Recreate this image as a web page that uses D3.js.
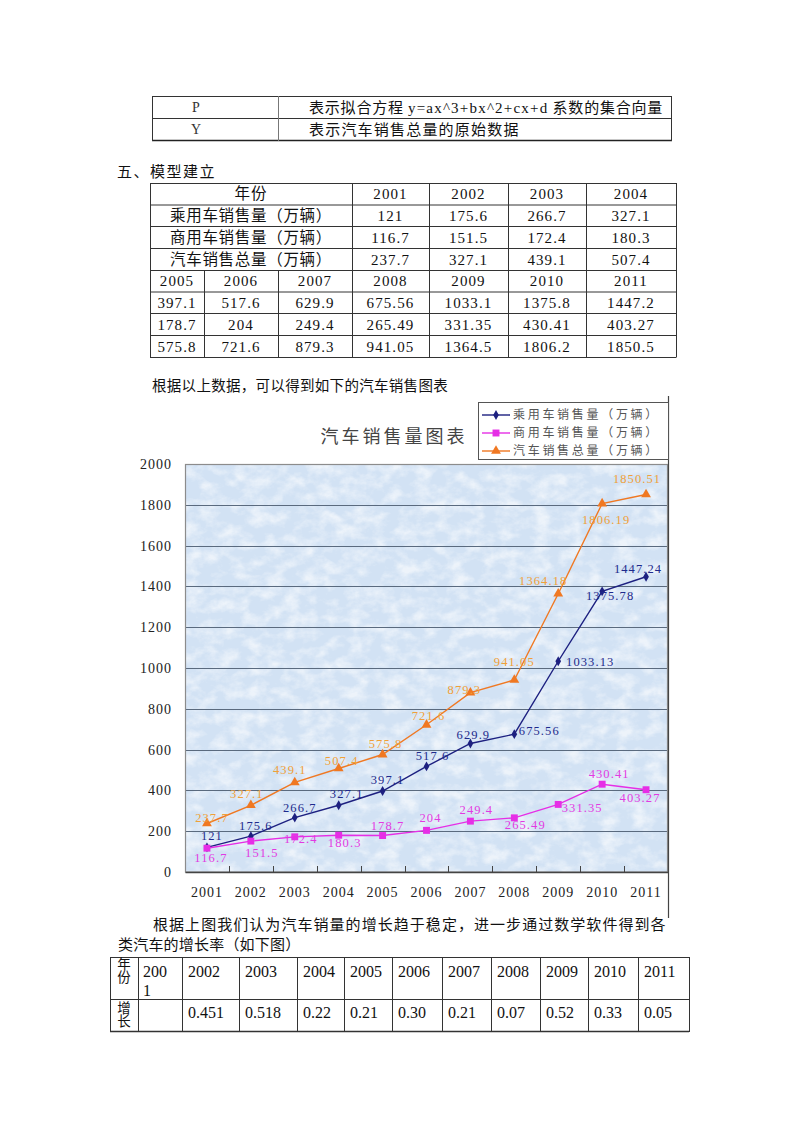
<!DOCTYPE html>
<html><head><meta charset="utf-8">
<script src="https://cdn.jsdelivr.net/npm/d3@7/dist/d3.min.js"></script>
<style>html,body{margin:0;padding:0;background:#fff}svg{display:block}</style>
</head><body>
<svg id="page" width="800" height="1132"></svg>
<script>
// ---------- data ----------
const years = [2001, 2002, 2003, 2004, 2005, 2006, 2007, 2008, 2009, 2010, 2011];
const passenger = [121, 175.6, 266.7, 327.1, 397.1, 517.6, 629.9, 675.56, 1033.13, 1375.78, 1447.24];
const commercial = [116.7, 151.5, 172.4, 180.3, 178.7, 204, 249.4, 265.49, 331.35, 430.41, 403.27];
const total = [237.7, 327.1, 439.1, 507.4, 575.8, 721.6, 879.3, 941.05, 1364.18, 1806.19, 1850.51];
const passengerTable = ["121", "175.6", "266.7", "327.1", "397.1", "517.6", "629.9", "675.56", "1033.1", "1375.8", "1447.2"];
const commercialTable = ["116.7", "151.5", "172.4", "180.3", "178.7", "204", "249.4", "265.49", "331.35", "430.41", "403.27"];
const totalTable = ["237.7", "327.1", "439.1", "507.4", "575.8", "721.6", "879.3", "941.05", "1364.5", "1806.2", "1850.5"];
const growth = ["", "0.451", "0.518", "0.22", "0.21", "0.30", "0.21", "0.07", "0.52", "0.33", "0.05"];
const yTicks = [0, 200, 400, 600, 800, 1000, 1200, 1400, 1600, 1800, 2000];
const seriesNames = ["乘用车销售量（万辆）", "商用车销售量（万辆）", "汽车销售总量（万辆）"];
const rowNames = ["乘用车销售量（万辆）", "商用车销售量（万辆）", "汽车销售总量（万辆）"];
const chartTitle = "汽车销售量图表";

// ---------- label placement (style, not data) ----------
const passengerLabelOff = [[5,-12],[5,-11],[5,-10],[8,-12],[5,-11],[6,-11],[3,-9],[25,-4],[32,0],[8,4],[-8,-8]];
const commercialLabelOff = [[4,9],[11,12],[6,2],[6,7],[5,-10],[4,-13],[6,-11],[11,7],[24,3],[7,-11],[-6,8]];
const totalLabelOff = [[5,-6],[-4,-12],[-5,-13],[3,-8],[3,-11],[2,-9],[-6,-3],[0,-18],[-15,-13],[4,16],[-9,-16]];

const CJK = "'Noto Sans CJK SC', 'Noto Sans', sans-serif";
const SERIF = "'Liberation Serif', 'DejaVu Serif', serif";
const svg = d3.select("#page");

function txt(x, y, s, opt) {
  opt = opt || {};
  return svg.append("text").attr("x", x).attr("y", y).attr("dy", "0.35em")
    .attr("font-family", opt.font || CJK).attr("font-size", opt.size || 14.5)
    .attr("fill", opt.fill || "#111").attr("text-anchor", opt.anchor || "start")
    .attr("letter-spacing", opt.ls || 0).text(s);
}
function vtxt(x, y, s, size) {
  return svg.append("text").attr("x", x).attr("y", y).attr("writing-mode", "vertical-rl")
    .attr("font-family", CJK).attr("font-size", size).attr("fill", "#111")
    .attr("letter-spacing", 0).text(s);
}
function hl(x1, x2, y, c, w) { svg.append("line").attr("x1", x1).attr("x2", x2).attr("y1", y).attr("y2", y).attr("stroke", c || "#333").attr("stroke-width", w || 1); }
function vl(x, y1, y2, c, w) { svg.append("line").attr("x1", x).attr("x2", x).attr("y1", y1).attr("y2", y2).attr("stroke", c || "#333").attr("stroke-width", w || 1); }

// ---------- table 1 ----------
hl(152, 672, 96.5); hl(152, 672, 118.5); hl(152, 672, 140.5, "#222", 1.3);
vl(152.5, 96, 141); vl(278.5, 96, 141, "#777"); vl(671.5, 96, 141);
txt(196, 107.5, "P", {font: SERIF, size: 14, anchor: "middle", fill: "#333"});
txt(196, 129.5, "Y", {font: SERIF, size: 14, anchor: "middle", fill: "#333"});
(function(){
  const t = svg.append("text").attr("x", 309).attr("y", 107.5).attr("dy", "0.35em")
    .attr("font-family", CJK).attr("font-size", 15).attr("letter-spacing", 0.8).attr("fill", "#111");
  t.append("tspan").text("表示拟合方程 ");
  t.append("tspan").attr("font-family", SERIF).attr("letter-spacing", 1.2).text("y=ax^3+bx^2+cx+d");
  t.append("tspan").text(" 系数的集合向量");
})();
txt(309, 129.5, "表示汽车销售总量的原始数据", {size: 15, ls: 1.2});

// ---------- heading ----------
txt(117, 172, "五、模型建立", {size: 15, ls: 1.5});

// ---------- table 2 ----------
const t2Rows = [183, 204.5, 226, 248, 270, 291.5, 313, 335, 357];
const t2Top = [150, 352, 429, 508, 586, 676];
const t2Bot = [150, 204, 278, 352, 429, 508, 586, 676];
t2Rows.forEach(r => hl(150, 676, r + 0.5, "#333"));
t2Top.forEach(c => vl(c + 0.5, 183, 270.5));
t2Bot.forEach(c => vl(c + 0.5, 270, 357.5));
const numOpt = {font: SERIF, size: 15, anchor: "middle", ls: 1.1};
txt(251, 194, "年份", {anchor: "middle", size: 15.5, ls: 1});
rowNames.forEach((n, i) => txt(251, 216 + i * 21.8, n, {anchor: "middle", size: 15.5, ls: 0.7}));
const topCenters = t2Top.slice(0, -1).map((c, i) => (t2Top[i] + t2Top[i + 1]) / 2).slice(1);
const botCenters = t2Bot.slice(0, -1).map((c, i) => (t2Bot[i] + t2Bot[i + 1]) / 2);
years.slice(0, 4).forEach((yv, i) => txt(topCenters[i], 194, String(yv), numOpt));
[passengerTable, commercialTable, totalTable].forEach((arr, r) => {
  arr.slice(0, 4).forEach((v, i) => txt(topCenters[i], 216 + r * 21.8, v, numOpt));
  arr.slice(4).forEach((v, i) => txt(botCenters[i], 302.5 + r * 22, v, numOpt));
});
years.slice(4).forEach((yv, i) => txt(botCenters[i], 281, String(yv), numOpt));

// ---------- paragraph ----------
txt(152, 386, "根据以上数据，可以得到如下的汽车销售图表", {size: 14.5, ls: 0.3});

// ---------- chart ----------
const defs = svg.append("defs");
const f = defs.append("filter").attr("id", "marble").attr("x", 0).attr("y", 0).attr("width", 1).attr("height", 1);
f.append("feTurbulence").attr("type", "fractalNoise").attr("baseFrequency", "0.06 0.08").attr("numOctaves", 4).attr("seed", 11).attr("result", "n");
f.append("feColorMatrix").attr("in", "n").attr("type", "matrix")
  .attr("values", "0 0 0 0 1  0 0 0 0 1  0 0 0 0 1  2.4 0 0 0 -0.95");

const x = d3.scaleBand().domain(years).range([185, 668]);
const y = d3.scaleLinear().domain([0, 2000]).range([872, 464]);
const cx = d => x(d) + x.bandwidth() / 2;

svg.append("rect").attr("x", 185).attr("y", 464).attr("width", 483).attr("height", 408).attr("fill", "#d2e2f4");
svg.append("rect").attr("x", 185).attr("y", 464).attr("width", 483).attr("height", 408).attr("fill", "#fff").attr("filter", "url(#marble)").attr("opacity", 0.6);

// gridlines
svg.append("g").selectAll("line").data(yTicks.filter(v => v > 0 && v < 2000)).join("line")
  .attr("x1", 185).attr("x2", 668).attr("y1", d => Math.round(y(d)) + 0.5).attr("y2", d => Math.round(y(d)) + 0.5)
  .attr("stroke", "#5a6a7e").attr("stroke-width", 1);
svg.append("rect").attr("x", 185.5).attr("y", 464.5).attr("width", 482).attr("height", 407.5)
  .attr("fill", "none").attr("stroke", "#8c8c8c").attr("stroke-width", 1.2);

// y axis labels
const ya = svg.append("g").attr("transform", "translate(185,0)")
  .call(d3.axisLeft(y).tickValues(yTicks).tickSize(0).tickPadding(13).tickFormat(d3.format("d")));
ya.select(".domain").remove();
ya.selectAll("text").attr("font-family", SERIF).attr("font-size", 14).attr("letter-spacing", 1).attr("fill", "#222");

// x axis
const xa = svg.append("g").attr("transform", "translate(0,872)")
  .call(d3.axisBottom(x).tickSize(0).tickPadding(15));
xa.select(".domain").attr("stroke", "#444").attr("stroke-width", 1.3);
xa.selectAll("text").attr("font-family", SERIF).attr("font-size", 14).attr("letter-spacing", 1).attr("fill", "#222");
svg.append("g").selectAll("line").data(years.slice(1)).join("line")
  .attr("x1", d => Math.round(x(d)) + 0.5).attr("x2", d => Math.round(x(d)) + 0.5)
  .attr("y1", 872).attr("y2", 866).attr("stroke", "#444");

// chart frame right edge
vl(668.5, 396, 918, "#444", 1.2);

const series = [
  {vals: passenger, color: "#1d2080", label: "#1e2a8c", sym: d3.symbolDiamond, size: 28, off: passengerLabelOff},
  {vals: commercial, color: "#e62ee6", label: "#e23ae2", sym: d3.symbolSquare, size: 48, off: commercialLabelOff},
  {vals: total, color: "#f07822", label: "#f0a038", sym: d3.symbolTriangle, size: 42, off: totalLabelOff}
];
const line = d3.line().x((d, i) => cx(years[i])).y(d => y(d));
[2, 0, 1].forEach(k => {
  const s = series[k];
  svg.append("path").datum(s.vals).attr("d", line).attr("fill", "none").attr("stroke", s.color).attr("stroke-width", 1.4);
  svg.append("g").selectAll("path").data(s.vals).join("path")
    .attr("transform", (d, i) => `translate(${cx(years[i])},${y(d)})`)
    .attr("d", d3.symbol().type(s.sym).size(s.size)).attr("fill", s.color);
});
series.forEach(s => {
  svg.append("g").selectAll("text").data(s.vals).join("text")
    .attr("x", (d, i) => cx(years[i]) + s.off[i][0]).attr("y", (d, i) => y(d) + s.off[i][1])
    .attr("dy", "0.35em").attr("text-anchor", "middle")
    .attr("font-family", SERIF).attr("font-size", 12.5).attr("letter-spacing", 1.1)
    .attr("fill", s.label).text(d => String(d));
});

// title
txt(394, 437, chartTitle, {size: 18, anchor: "middle", fill: "#444", ls: 3});

// legend
svg.append("rect").attr("x", 478.5).attr("y", 402.5).attr("width", 190).attr("height", 57)
  .attr("fill", "#fff").attr("stroke", "#555").attr("stroke-width", 1);
series.forEach((s, i) => {
  const ly = 415 + i * 18;
  svg.append("line").attr("x1", 482).attr("x2", 510).attr("y1", ly).attr("y2", ly).attr("stroke", s.color).attr("stroke-width", 1.4);
  svg.append("path").attr("transform", `translate(496,${ly})`).attr("d", d3.symbol().type(s.sym).size(s.size)).attr("fill", s.color);
  txt(513, ly, seriesNames[i], {size: 12, fill: "#555", ls: 2.7});
});

// ---------- paragraph 2 ----------
txt(153, 925, "根据上图我们认为汽车销量的增长趋于稳定，进一步通过数学软件得到各", {size: 15, ls: 1.05});
txt(118, 945, "类汽车的增长率（如下图）", {size: 15, ls: 0.2});

// ---------- table 3 ----------
const t3Cols = [110, 138, 182, 239, 297, 344, 392, 442, 491, 540, 588, 638, 689];
hl(110, 689, 957.5); hl(110, 689, 999.5); hl(110, 689, 1031.5, "#333", 1.5);
t3Cols.forEach(c => vl(c + 0.5, 957, 1032));
vtxt(124, 957, "年份", 13.5);
vtxt(124, 1001, "增长", 13.5);
txt(143, 971, String(years[0]).slice(0, 3), {font: SERIF, size: 16});
txt(143, 990, String(years[0]).slice(3), {font: SERIF, size: 16});
years.slice(1).forEach((yv, i) => txt(t3Cols[i + 2] + 6, 971, String(yv), {font: SERIF, size: 16}));
growth.forEach((g, i) => { if (g) txt(t3Cols[i + 1] + 6, 1012, g, {font: SERIF, size: 16}); });
</script>
</body></html>
